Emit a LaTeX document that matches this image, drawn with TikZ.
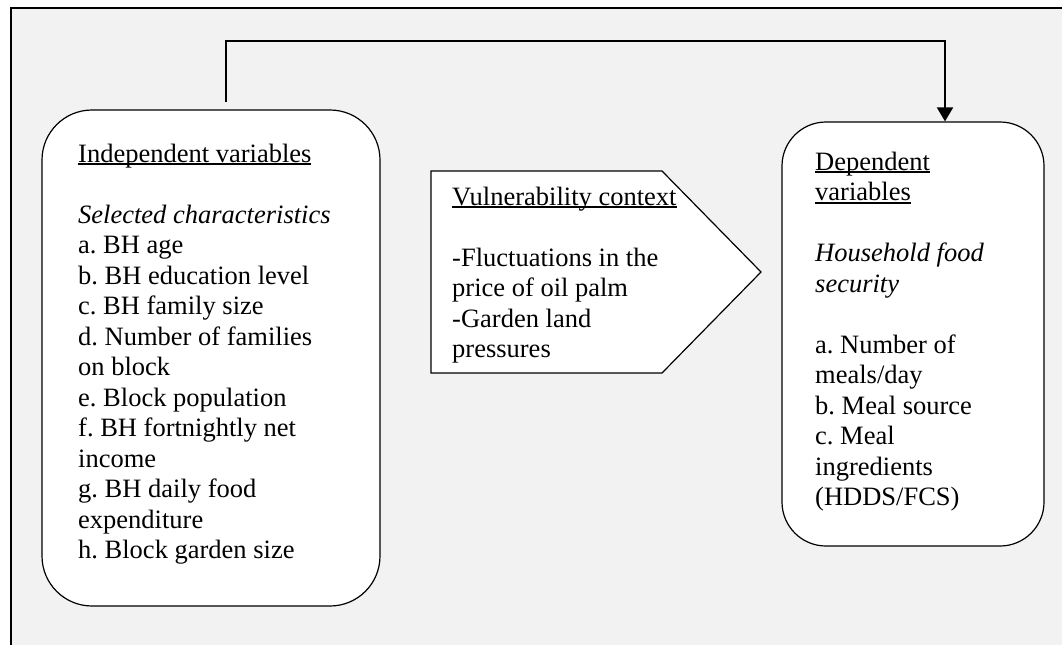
\documentclass[tikz,border=0pt]{standalone}
\usepackage{fontspec}
\setmainfont{Liberation Serif}
\usetikzlibrary{arrows.meta}
\definecolor{panelgray}{HTML}{F2F2F2}
\frenchspacing
\newsavebox\ulinebox
% underline set at a fixed depth below the baseline, crossing descenders
\newcommand\ulined[1]{\sbox\ulinebox{#1}\rlap{\rule[-3.4pt]{\wd\ulinebox}{2pt}}\usebox\ulinebox}
\begin{document}
\begin{tikzpicture}[x=1pt,y=-1pt,
  varbox/.style={draw=black, line width=1.2pt, fill=white},
  % multi-line texts are placed by the baseline of their last line
  bodytext/.style={anchor=base west, inner sep=0pt, align=left,
    font=\fontsize{26.5}{30.5}\selectfont},
  conn/.style={line width=2pt}]
\useasboundingbox (0,0) rectangle (1062,645);
% panel with its left and top rules
\fill[panelgray] (11,8) rectangle (1062,645);
\draw[line width=2pt] (11,645) -- (11,8) -- (1062,8);

% boxes
\node[varbox, rounded corners=50pt, minimum width=338pt, minimum height=496pt,
  inner sep=0pt] (indep) at (211,358) {};
\node[varbox, rounded corners=44pt, minimum width=262pt, minimum height=424pt,
  inner sep=0pt] (dep) at (913,334) {};
\coordinate (vnw) at (431,171);
\coordinate (vne) at (662,171);
\coordinate (vtip) at (761,272);
\coordinate (vse) at (662,373);
\coordinate (vsw) at (431,373);
\draw[varbox] (vnw) -- (vne) -- (vtip) -- (vse) -- (vsw) -- cycle;

% texts
\node[bodytext] (indeptext) at (78,558.5) {\ulined{Independent variables}\\[30.5pt]
  \textit{Selected characteristics}\\
  a. BH age\\
  b. BH education level\\
  c. BH family size\\
  d. Number of families\\
  on block\\
  e. Block population\\
  f. BH fortnightly net\\
  income\\
  g. BH daily food\\
  expenditure\\
  h. Block garden size};
\node[bodytext] (vulntext) at (452,357.5) {\ulined{Vulnerability context}\\[30.5pt]
  -Fluctuations in the\\
  price of oil palm\\
  -Garden land\\
  pressures};
\node[bodytext] (deptext) at (815,505.5) {\ulined{Dependent}\\
  \ulined{variables}\\[30.5pt]
  \textit{Household food}\\
  \textit{security}\\[30.5pt]
  a. Number of\\
  meals/day\\
  b. Meal source\\
  c. Meal\\
  ingredients\\
  (HDDS/FCS)};

% connector over the top
\draw[conn, -{Triangle[width=16pt,length=14pt]}]
  ([xshift=15pt,yshift=7pt]indep.north) -- ++(0,-61) -| ([xshift=32pt]dep.north);
\end{tikzpicture}
\end{document}
